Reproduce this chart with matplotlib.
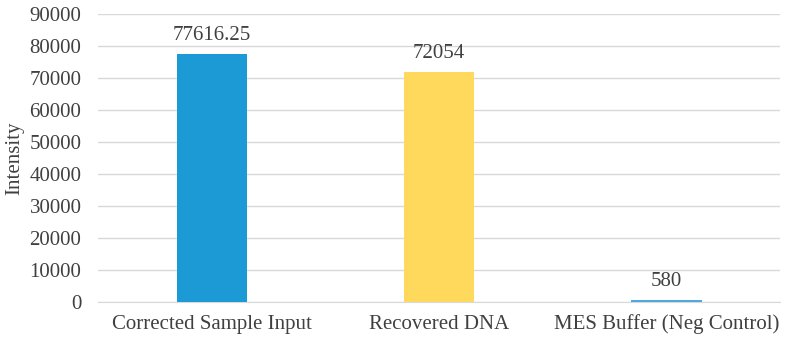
import matplotlib.pyplot as plt

categories = ['Corrected Sample Input', 'Recovered DNA', 'MES Buffer (Neg Control)']
values = [77616.25, 72054, 580]
labels = ['77616.25', '72054', '580']
colors = ['#1b9ad6', '#ffd95c', '#4ea9de']

plt.rcParams['font.family'] = ['Liberation Serif', 'DejaVu Serif']

fig = plt.figure(figsize=(7.85, 3.44), dpi=100)
ax = fig.add_axes([0.125, 0.122, 0.869, 0.837])

x = range(len(categories))
ax.bar(x, values, width=0.31, color=colors, zorder=3)
for i, v in enumerate(values):
    ax.text(i, v + 2800, labels[i], ha='center', va='bottom', fontsize=15, color='#404040')

ax.set_xlim(-0.5, 2.5)
ax.set_ylim(0, 90000)
ax.set_yticks(range(0, 90001, 10000))
ax.set_xticks(list(x))
ax.set_xticklabels(categories)
ax.tick_params(axis='both', length=0, labelsize=15, labelcolor='#404040')
ax.tick_params(axis='y', pad=12)
ax.tick_params(axis='x', pad=9)
ax.grid(axis='y', color='#d9d9d9', linewidth=1, zorder=0)
for s in ['top', 'right', 'left']:
    ax.spines[s].set_visible(False)
ax.spines['bottom'].set_color('#d9d9d9')
ax.set_ylabel('Intensity', fontsize=15, color='#404040', labelpad=4)

fig.savefig('out.png')
